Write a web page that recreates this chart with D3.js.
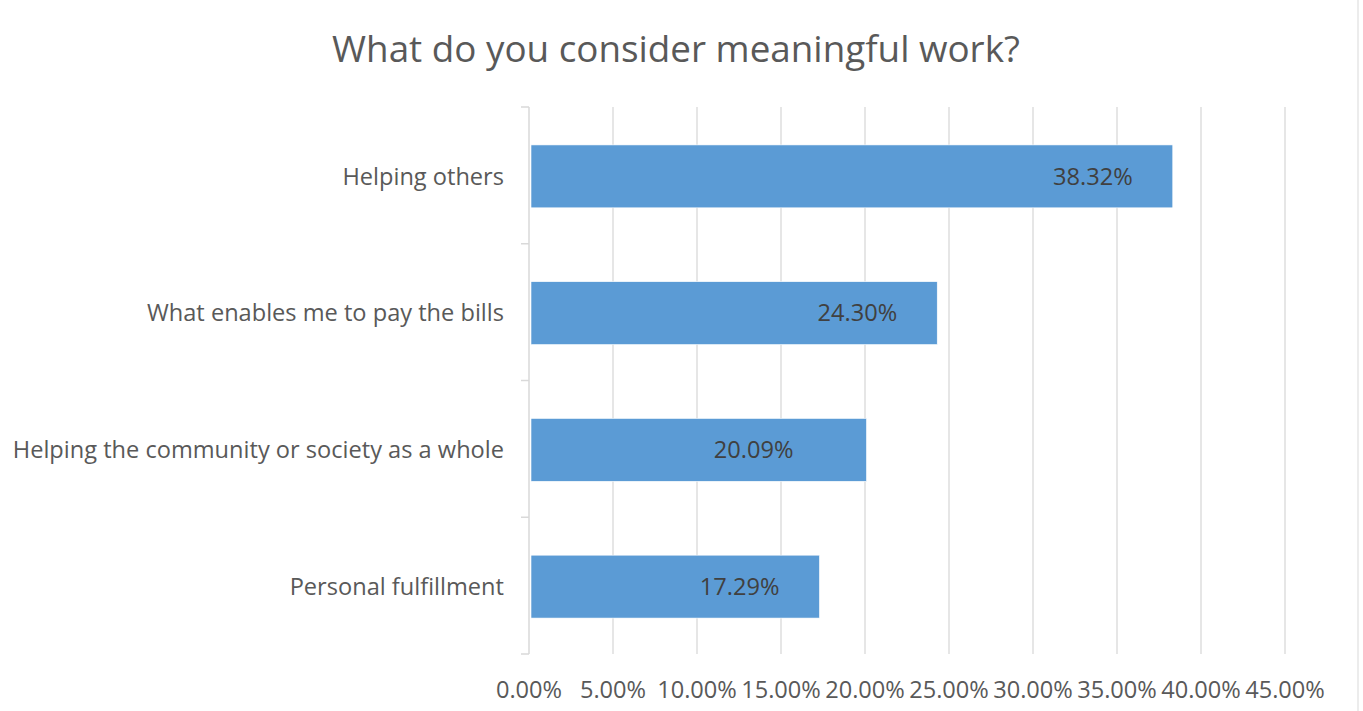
<!DOCTYPE html>
<html><head><meta charset="utf-8">
<script src="https://cdn.jsdelivr.net/npm/d3@7"></script>
<style>body{margin:0;background:#fff;}svg{display:block;font-family:"Open Sans",sans-serif;}</style>
</head><body>
<svg id="c" width="1363" height="711"></svg>
<script>
const categories = ["Helping others","What enables me to pay the bills","Helping the community or society as a whole","Personal fulfillment"];
const values = [38.32, 24.30, 20.09, 17.29];
const ticks = [0,5,10,15,20,25,30,35,40,45];
const title = "What do you consider meaningful work?";

(function(){
const svg = d3.select("#c");
const pL = 529, pR = 1285, pT = 107, pB = 654;
const x = d3.scaleLinear().domain([0,45]).range([pL,pR]);
const y = d3.scaleBand().domain(categories).range([pT+1,pB+1]).paddingInner(0.54).paddingOuter(0.27);

svg.append("text").attr("x",676).attr("y",62).attr("text-anchor","middle")
  .attr("font-size",36.8).attr("fill","#595959").text(title);

// gridlines
svg.append("g").selectAll("line").data(ticks.slice(1)).join("line")
  .attr("x1",d=>x(d)).attr("x2",d=>x(d)).attr("y1",pT).attr("y2",pB)
  .attr("stroke","#d9d9d9").attr("stroke-width",1.3);

// axis line & ticks
const ya = svg.append("g");
ya.append("line").attr("x1",pL).attr("x2",pL).attr("y1",pT).attr("y2",pB).attr("stroke","#d9d9d9").attr("stroke-width",1.5);
const bounds = d3.range(categories.length+1).map(i=>pT + i*(pB-pT)/categories.length);
ya.selectAll("line.t").data(bounds).join("line").attr("class","t")
  .attr("x1",pL-8).attr("x2",pL).attr("y1",d=>d).attr("y2",d=>d)
  .attr("stroke","#d9d9d9").attr("stroke-width",1.5);

// bars
svg.append("g").selectAll("rect").data(values).join("rect")
  .attr("x",x(0)+2).attr("y",(d,i)=>y(categories[i]))
  .attr("width",d=>x(d)-x(0)-2).attr("height",y.bandwidth())
  .attr("fill","#5b9bd5").attr("stroke","#ffffff").attr("stroke-width",0.6);

// category labels
svg.append("g").selectAll("text").data(categories).join("text")
  .attr("x",504).attr("y",d=>y(d)+y.bandwidth()/2).attr("dy","0.35em")
  .attr("text-anchor","end").attr("font-size",23.6).attr("fill","#595959").text(d=>d);

// data labels
const labelNudge = [0,0,-33,0];
svg.append("g").selectAll("text").data(values).join("text")
  .attr("x",(d,i)=>x(d)-40+labelNudge[i]).attr("y",(d,i)=>y(categories[i])+y.bandwidth()/2).attr("dy","0.35em")
  .attr("text-anchor","end").attr("font-size",23.6).attr("fill","#404040").text(d=>d.toFixed(2)+"%");

// tick labels
svg.append("g").selectAll("text").data(ticks).join("text")
  .attr("x",d=>x(d)).attr("y",698).attr("text-anchor","middle")
  .attr("font-size",23.6).attr("fill","#595959").text(d=>d.toFixed(2)+"%");

// right border
svg.append("line").attr("x1",1358).attr("x2",1358).attr("y1",0).attr("y2",711).attr("stroke","#d9d9d9").attr("stroke-width",1);
})();
</script>
</body></html>
